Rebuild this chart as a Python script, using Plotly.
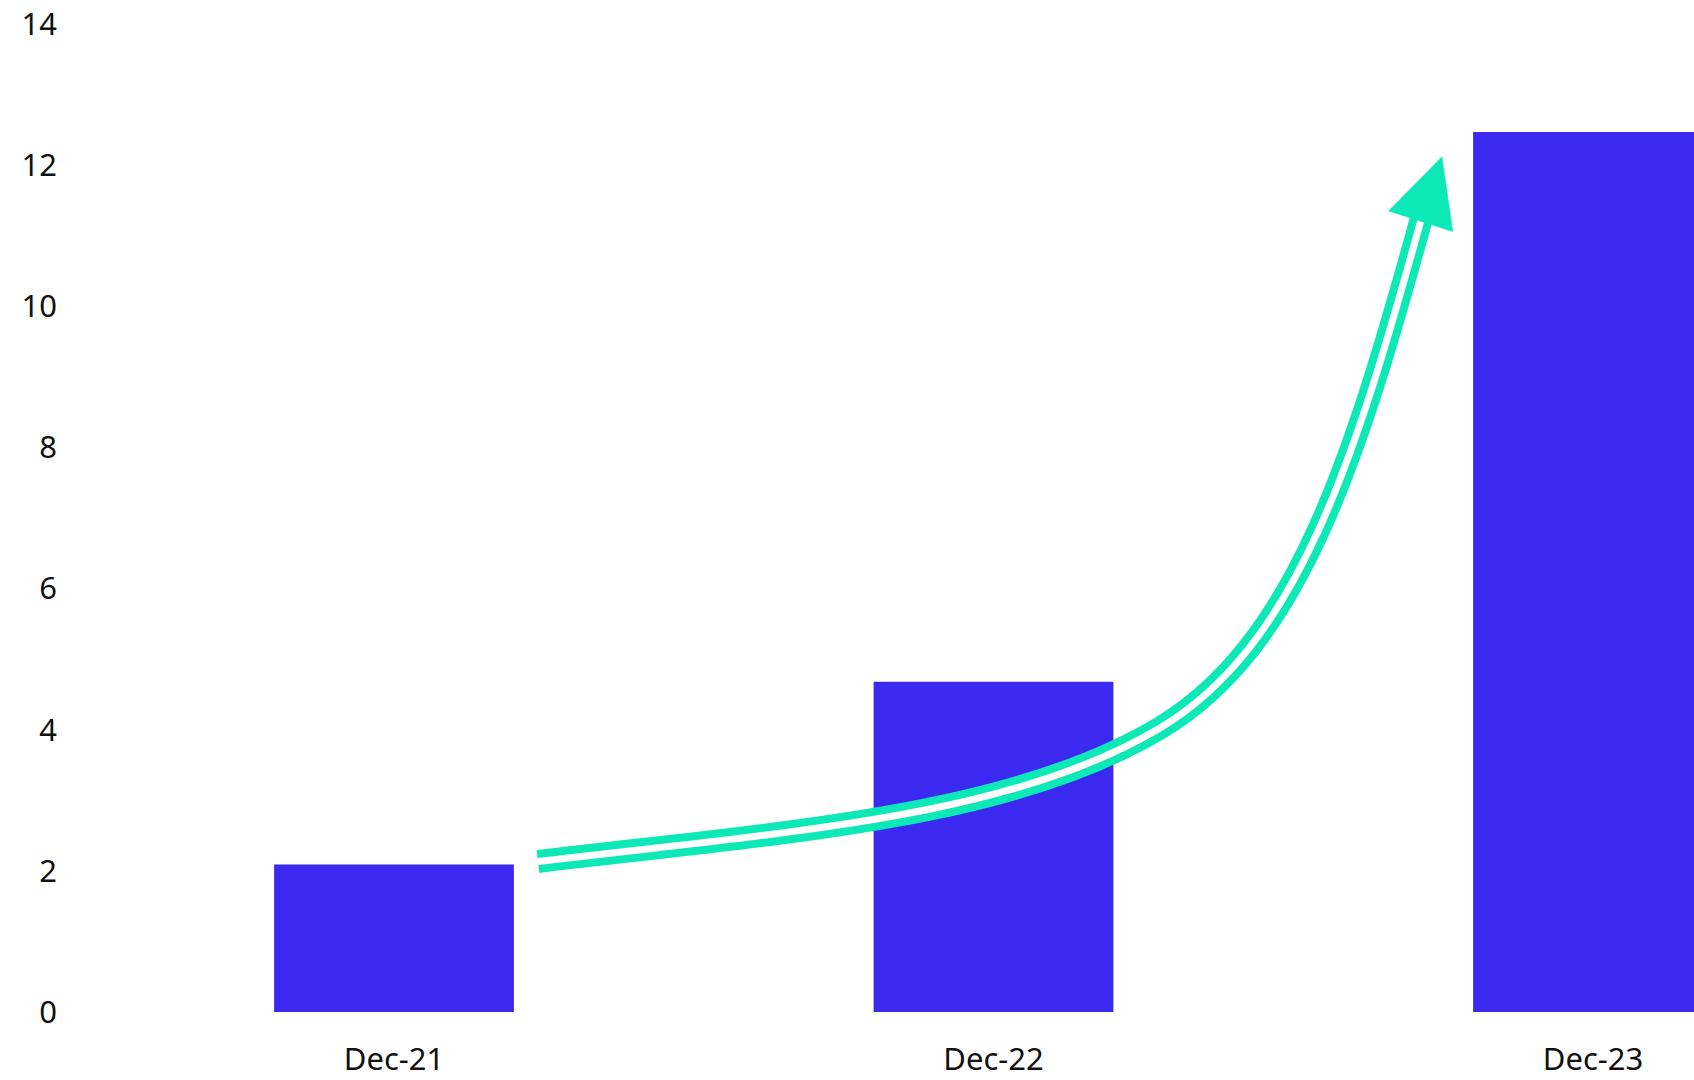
import plotly.graph_objects as go

# ---- data ----
categories = ["Dec-21", "Dec-22", "Dec-23"]
values = [2.09, 4.68, 12.47]
y_ticks = [0, 2, 4, 6, 8, 10, 12, 14]

# growth arrow: two cubic Bezier segments (start, ctrl, ctrl, end, ctrl, ctrl, end), data units
arrow_x = [0.2402, 0.6544, 1.0275, 1.2777, 1.5064, 1.6025, 1.7131]
arrow_y = [2.1327, 2.5535, 2.7491, 4.0244, 5.1892, 7.8079, 11.2229]
head_x = [1.659, 1.748, 1.766]
head_y = [11.35, 12.12, 11.06]

BAR = "#3C29F0"
TEAL = "#0DE9B6"
FONT = "Noto Sans"

x_idx = list(range(len(categories)))

fig = go.Figure()
fig.add_trace(go.Bar(x=x_idx, y=values, width=0.4, marker=dict(color=BAR, line=dict(width=0)),
                     hoverinfo="skip"))

p = list(zip(arrow_x, arrow_y))
path = "M {},{} C {},{} {},{} {},{} C {},{} {},{} {},{}".format(
    *[v for pt in p for v in pt])
fig.add_shape(type="path", path=path, xref="x", yref="y",
              line=dict(color=TEAL, width=23))
fig.add_shape(type="path", path=path, xref="x", yref="y",
              line=dict(color="white", width=7))
head = "M {},{} L {},{} L {},{} Z".format(
    *[v for pt in zip(head_x, head_y) for v in pt])
fig.add_shape(type="path", path=head, xref="x", yref="y",
              fillcolor=TEAL, line=dict(color=TEAL, width=0.5))

L = 62
W, H = 1694, 1080
unit = 599.5
a = -(394 - L) / unit
b = a + (W - L) / unit

fig.update_layout(
    width=W, height=H,
    margin=dict(l=L, r=0, t=24, b=68),
    plot_bgcolor="white", paper_bgcolor="white",
    showlegend=False,
    font=dict(family=FONT, size=31, color="#111111"),
    xaxis=dict(range=[a, b], tickmode="array", tickvals=x_idx, ticktext=categories,
               showgrid=False, zeroline=False, showline=False, ticks="",
               ticklabelstandoff=26, fixedrange=True, automargin=False),
    yaxis=dict(range=[0, 14], tickmode="array", tickvals=y_ticks,
               showgrid=False, zeroline=False, showline=False, ticks="",
               ticklabelstandoff=4, fixedrange=True, automargin=False),
)

fig.write_html("out.html")
